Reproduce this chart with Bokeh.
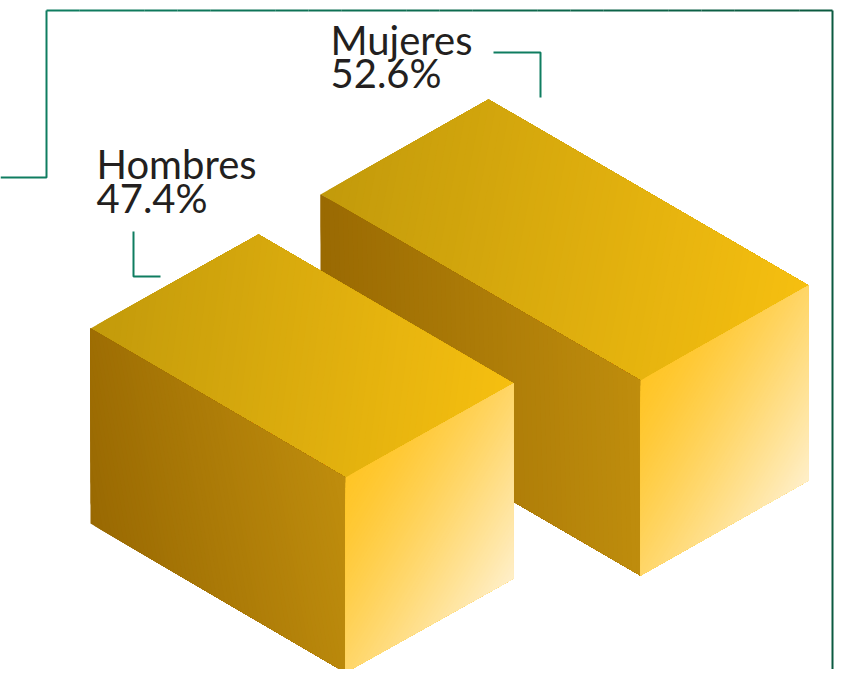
from bokeh.plotting import figure
from bokeh.models import Range1d
from bokeh.embed import file_html
from bokeh.resources import INLINE
from bokeh.core.properties import value
import numpy as np

# ---- data ----
categories = ["Hombres", "Mujeres"]
values = [47.4, 52.6]
value_labels = ["47.4%", "52.6%"]

# ---- layout (screen-pixel coordinates of the reference) ----
W, H = 834, 669
p = figure(width=W, height=H, output_backend="svg", toolbar_location=None,
           x_range=Range1d(0, W), y_range=Range1d(H, 0),
           min_border=0, outline_line_color=None, background_fill_color="white",
           border_fill_color="white")
p.axis.visible = False
p.grid.visible = False

def hex2rgb(h):
    h = h.lstrip("#")
    return np.array([int(h[i:i + 2], 16) for i in (0, 2, 4)], dtype=float)

def mix(c0, c1, t):
    c = hex2rgb(c0) * (1 - t) + hex2rgb(c1) * t
    return "#%02x%02x%02x" % tuple(int(round(v)) for v in c)

def clip_halfplane(poly, g0, gv, t):
    def f(P):
        return np.dot(P - g0, gv) / np.dot(gv, gv) - t
    out = []
    n = len(poly)
    for i in range(n):
        A, B = poly[i], poly[(i + 1) % n]
        fa, fb = f(A), f(B)
        if fa >= 0:
            out.append(A)
        if (fa >= 0) != (fb >= 0):
            s = fa / (fa - fb)
            out.append(A + s * (B - A))
    return out

def face(poly, g0, g1, c0, c1, nstrips=70, gamma=1.0):
    poly = [np.array(q, float) for q in poly]
    g0, g1 = np.array(g0, float), np.array(g1, float)
    gv = g1 - g0
    ts = [np.dot(q - g0, gv) / np.dot(gv, gv) for q in poly]
    tmin, tmax = min(ts), max(ts)
    xs, ys, cols = [], [], []
    for k in range(nstrips):
        t = tmin + (tmax - tmin) * k / nstrips
        sub = poly if k == 0 else clip_halfplane(poly, g0, gv, t)
        if len(sub) < 3:
            continue
        tc = np.clip(t + (tmax - tmin) * 0.5 / nstrips, 0, 1) ** gamma
        xs.append([q[0] for q in sub])
        ys.append([q[1] for q in sub])
        cols.append(mix(c0, c1, tc))
    p.patches(xs, ys, fill_color=cols, line_color=None)

def box(F, Lv, Dv, h):
    F, Lv, Dv = np.array(F, float), np.array(Lv, float), np.array(Dv, float)
    Hv = np.array([0.0, h])
    face([F, F + Lv, F + Lv + Dv, F + Dv], F + Lv, F + Dv, "#c29a0b", "#f6bf10")
    face([F, F + Lv, F + Lv + Hv, F + Hv], F + Lv + Hv, F, "#996902", "#bf8d0d")
    face([F, F + Dv, F + Dv + Hv, F + Hv], F, F + Dv + Hv, "#ffc526", "#ffefc8", gamma=1.3)

# box geometry: front-top vertex, length vector, depth vector, height
boxes = {
    "Mujeres": ((640, 380), (-320, -186), (168, -95), 195),
    "Hombres": ((345, 477), (-255, -149), (168, -94), 195),
}
for name in ["Mujeres", "Hombres"]:
    box(*boxes[name])

# ---- connector lines ----
green = "#0f7d60"
dark_green = "#0b5a40"
p.line([0, 46, 46], [177, 177, 10], line_color=green, line_width=2)
nseg = 24
xs_top = np.linspace(46, 832, nseg + 1)
for k in range(nseg):
    p.line([xs_top[k], xs_top[k + 1]], [10, 10],
           line_color=mix(green, dark_green, k / (nseg - 1)), line_width=2)
p.line([832, 832], [10, 700], line_color=dark_green, line_width=2)
p.line([133, 133, 160], [231, 276, 276], line_color=green, line_width=2)
p.line([493, 540, 540], [52, 52, 97], line_color=green, line_width=2)

# ---- labels ----
label_pos = {"Hombres": (96, 163, 197), "Mujeres": (330, 39, 72)}
for cat, lab in zip(categories, value_labels):
    x, y1, y2 = label_pos[cat]
    p.text(x=[x, x], y=[y1, y2], text=[cat, lab], text_font=value("Lato"),
           text_font_size="40px", text_color="#231f20",
           text_baseline="alphabetic", text_align="left")

open("out.html", "w").write(file_html(p, INLINE))
